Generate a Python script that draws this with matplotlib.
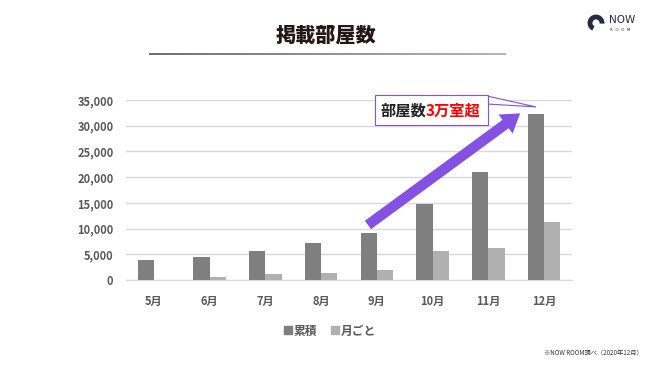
import matplotlib
matplotlib.use("Agg")
import matplotlib.pyplot as plt
from matplotlib.patches import Arc, Polygon, Rectangle, FancyArrowPatch
from matplotlib.lines import Line2D
from matplotlib.collections import LineCollection
from matplotlib.ticker import FuncFormatter
import numpy as np

plt.rcParams['font.family'] = ['Noto Sans CJK JP', 'DejaVu Sans']

# data
months = ['5月', '6月', '7月', '8月', '9月', '10月', '11月', '12月']
cumulative = [3900, 4450, 5700, 7150, 9200, 14800, 20950, 32250]
monthly = [0, 500, 1200, 1400, 1950, 5650, 6150, 11300]
series_names = ['累積', '月ごと']
y_ticks = [0, 5000, 10000, 15000, 20000, 25000, 30000, 35000]

W, H = 650, 365
dark_bar = '#7f7f7f'
light_bar = '#b0b0b0'
label_grey = '#595959'
purple = '#8452e3'


def px(x, y):
    # pixel position (from top left) to figure fraction
    return x / W, 1 - y / H


fig = plt.figure(figsize=(W / 100, H / 100), dpi=100)
ax = fig.add_axes([126 / W, 1 - 280 / H, 446 / W, 180 / H])

x = np.arange(len(months))
bw = 0.29
ax.bar(x - bw / 2, cumulative, bw, color=dark_bar, zorder=3)
ax.bar(x + bw / 2, monthly, bw, color=light_bar, zorder=3)

ax.set_xlim(-0.5, len(months) - 0.5)
ax.set_ylim(0, 35000)
ax.set_yticks(y_ticks)
ax.yaxis.set_major_formatter(FuncFormatter(lambda v, p: f'{int(v):,}'))
ax.set_xticks(x)
ax.set_xticklabels(months)
ax.grid(axis='y', color='#d9d9d9', linewidth=1, zorder=0)
for s in ['top', 'right', 'left']:
    ax.spines[s].set_visible(False)
ax.spines['bottom'].set_color('#d9d9d9')
ax.tick_params(axis='both', length=0, colors=label_grey, labelsize=8)
ax.tick_params(axis='y', pad=9)
ax.tick_params(axis='x', pad=11)
for lab in ax.get_xticklabels() + ax.get_yticklabels():
    lab.set_fontweight('bold')

# big purple arrow from 9月 up to 12月
arrow = FancyArrowPatch((3.84, 10700), (6.57, 32400),
                        arrowstyle='simple,head_width=1.7,head_length=1.3,tail_width=0.75',
                        mutation_scale=10, color=purple, lw=0, zorder=5,
                        shrinkA=0, shrinkB=0, clip_on=False)
ax.add_patch(arrow)

# callout box
tip = ax.transData.transform((len(months) - 1 - bw / 2, cumulative[-1] + 1400))
tip_fx, tip_fy = fig.transFigure.inverted().transform(tip)
wedge = Polygon([px(487, 96), px(487, 104), (tip_fx, tip_fy)], closed=True,
                facecolor='white', edgecolor=purple, lw=0.8,
                transform=fig.transFigure, zorder=6)
fig.patches.append(wedge)
bx0, by0 = px(375, 125)
box = Rectangle((bx0, by0), 113 / W, 30 / H, facecolor='white', edgecolor=purple,
                lw=0.8, transform=fig.transFigure, zorder=7)
fig.patches.append(box)
fig.text(*px(426, 111), '部屋数', ha='right', va='center', fontsize=11,
         fontweight='bold', color='#222222', zorder=8)
fig.text(*px(426, 111), '3万室超', ha='left', va='center', fontsize=11,
         fontweight='bold', color='#ff0000', zorder=8)

# title and rule (dark to light gradient)
fig.text(*px(326, 36), '掲載部屋数', ha='center', va='center', fontsize=14.5,
         fontweight='heavy', color='#231815')
gx = np.linspace(149, 506, 60)
segs = [[px(gx[i], 53.5), px(gx[i + 1], 53.5)] for i in range(len(gx) - 1)]
shade = np.linspace(0.38, 0.68, len(segs))
fig.add_artist(LineCollection(segs, colors=[(g, g, g) for g in shade], lw=1.3,
                              transform=fig.transFigure))

# legend
handles = [Line2D([], [], marker='s', linestyle='', color=c, markersize=6)
           for c in [dark_bar, light_bar]]
leg = fig.legend(handles, series_names, loc='center', bbox_to_anchor=px(330, 331),
                 ncol=2, frameon=False, handlelength=0.6, handletextpad=0.2,
                 columnspacing=1.2, prop={'size': 8.5, 'weight': 'bold'})
for t in leg.get_texts():
    t.set_color(label_grey)

# logo
fig.add_artist(Arc(px(596, 23), 12 / W, 12 / H, theta1=-10, theta2=255,
                   color='#2a2940', lw=3.5, transform=fig.transFigure))
fig.text(*px(609, 20), 'NOW', ha='left', va='center', fontsize=7.5,
         color='#2a2940', family='DejaVu Sans')
fig.text(*px(610, 30), 'R  O  O  M', ha='left', va='center', fontsize=3,
         color='#2a2940', family='DejaVu Sans')

# source note
fig.text(*px(643, 353), '※NOW ROOM調べ（2020年12月）', ha='right', va='center',
         fontsize=4.5, color='#333333')

fig.savefig('out.png', dpi=100)
